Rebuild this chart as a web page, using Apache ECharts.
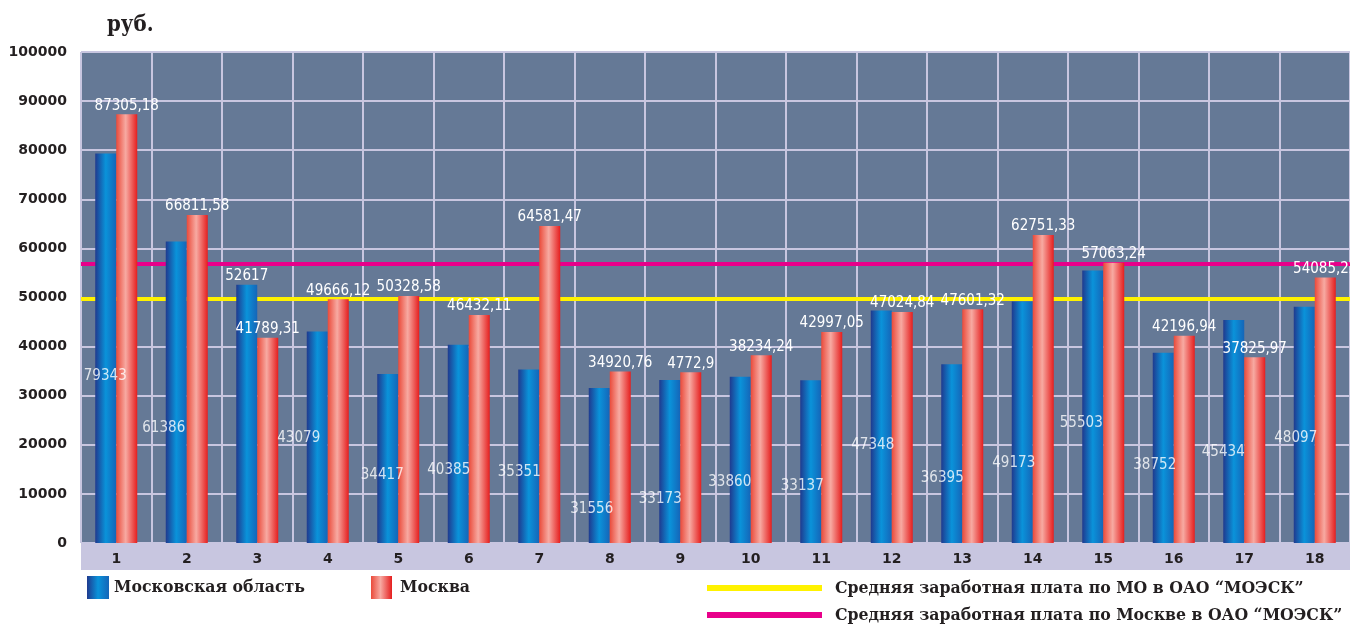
<!DOCTYPE html>
<html>
<head>
<meta charset="utf-8">
<script src="https://cdn.jsdelivr.net/npm/echarts@6/dist/echarts.min.js"></script>
<style>
  html, body { margin: 0; padding: 0; background: #ffffff; }
  #chart { width: 1350px; height: 625px; }
</style>
</head>
<body>
<div id="chart"></div>
<script>
// ---- data ----
const categories = ['1', '2', '3', '4', '5', '6', '7', '8', '9', '10', '11', '12', '13', '14', '15', '16', '17', '18'];

// Московская область
const regionValues = [79343, 61386, 52617, 43079, 34417, 40385, 35351, 31556, 33173, 33860, 33137, 47348, 36395, 49173, 55503, 38752, 45434, 48097];

// Москва
const moscowValues = [87305.18, 66811.58, 41789.31, 49666.12, 50328.58, 46432.11, 64581.47, 34920.76, 34772.9, 38234.24, 42997.05, 47024.84, 47601.32, 62751.33, 57063.24, 42196.94, 37825.97, 54085.22];
const moscowLabelText = ['87305,18', '66811,58', '41789,31', '49666,12', '50328,58', '46432,11', '64581,47', '34920,76', '4772,9', '38234,24', '42997,05', '47024,84', '47601,32', '62751,33', '57063,24', '42196,94', '37825,97', '54085,22'];

// average salary levels
const avgRegion = 49750;
const avgMoscow = 56800;

// value axis ticks
const yMin = 0, yMax = 100000, yStep = 10000;

const seriesNames = ['Московская область', 'Москва', 'Средняя заработная плата по МО в ОАО “МОЭСК”', 'Средняя заработная плата по Москве в ОАО “МОЭСК”'];

// ---- layout ----
// height (in axis units) at which each region value is written inside the plot; null = above its bar
const regionLabelLevel = [34000, 23500, null, 21400, 13800, 14800, 14400, 7000, 8900, 12400, 11500, 19900, 13300, 16300, 24500, 15800, 18600, 21400];
// horizontal shift (px) of those captions from the category centre
const regionLabelDx = [-11, -23, 0, -29, -16, -20, -20, -18, -20, -21, -19, -19, -20, -19, -22, -19, -21, -19];

const GRID = { left: 81, right: 0, top: 52, bottom: 82 };
const BAND_HEIGHT = 27;

const ink = '#231f20';
const lavender = '#c8c6e0';
const plotBg = '#657996';
const serifFont = '"DejaVu Serif Condensed", "DejaVu Serif", serif';
const tickFont = '"DejaVu Sans", sans-serif';
const numFont = '"DejaVu Sans Condensed", "DejaVu Sans", sans-serif';

const blueFill = new echarts.graphic.LinearGradient(0, 0, 1, 0, [
  { offset: 0, color: '#1f3a8f' },
  { offset: 0.5, color: '#0a93da' },
  { offset: 1, color: '#1565b8' }
]);
const redFill = new echarts.graphic.LinearGradient(0, 0, 1, 0, [
  { offset: 0, color: '#ea4a3a' },
  { offset: 0.45, color: '#f7aaa2' },
  { offset: 1, color: '#e51e1e' }
]);

const valueLabel = {
  color: '#ffffff',
  fontFamily: numFont,
  fontSize: 15
};

const chartEl = document.getElementById('chart');
const chart = echarts.init(chartEl, null, { renderer: 'canvas' });

const legendText = { color: ink, fontFamily: serifFont, fontWeight: 'bold', fontSize: 17.5 };

chart.setOption({
  backgroundColor: '#ffffff',
  animation: false,
  title: {
    text: 'руб.',
    left: 107,
    top: 14,
    padding: 0,
    textStyle: { color: ink, fontFamily: serifFont, fontWeight: 'bold', fontSize: 22 }
  },
  legend: [
    {
      data: [seriesNames[0]], left: 87, top: 576, padding: 0,
      icon: 'rect', itemWidth: 22, itemHeight: 23, selectedMode: false,
      textStyle: Object.assign({ padding: [3, 0, 0, 0] }, legendText)
    },
    {
      data: [seriesNames[1]], left: 371, top: 576, padding: 0,
      icon: 'rect', itemWidth: 21, itemHeight: 23, selectedMode: false,
      textStyle: Object.assign({ padding: [3, 0, 0, 3] }, legendText)
    },
    {
      data: [seriesNames[2]], left: 707, top: 579, padding: 0,
      icon: 'rect', itemWidth: 115, itemHeight: 6, selectedMode: false,
      textStyle: Object.assign({ padding: [0, 0, 0, 8] }, legendText)
    },
    {
      data: [seriesNames[3]], left: 707, top: 606, padding: 0,
      icon: 'rect', itemWidth: 115, itemHeight: 6, selectedMode: false,
      textStyle: Object.assign({ padding: [0, 0, 0, 8] }, legendText)
    }
  ],
  grid: {
    left: GRID.left, right: GRID.right, top: GRID.top, bottom: GRID.bottom,
    show: true, backgroundColor: plotBg, borderWidth: 0,
    containLabel: false
  },
  xAxis: {
    type: 'category',
    data: categories,
    boundaryGap: true,
    z: 1,
    axisLine: { show: false },
    axisTick: { show: false },
    axisLabel: {
      color: ink, fontFamily: tickFont, fontWeight: 'bold', fontSize: 14,
      margin: 16, verticalAlign: 'middle', interval: 0
    },
    splitLine: { show: true, interval: 0, lineStyle: { color: lavender, width: 2 } }
  },
  yAxis: {
    type: 'value',
    min: yMin, max: yMax, interval: yStep,
    z: 1,
    axisLine: { show: false },
    axisTick: { show: false },
    axisLabel: {
      color: ink, fontFamily: tickFont, fontWeight: 'bold', fontSize: 14, margin: 14,
      formatter: (v) => String(v)
    },
    splitLine: { show: true, lineStyle: { color: lavender, width: 2 } }
  },
  series: [
    {
      name: seriesNames[0],
      type: 'bar',
      barWidth: 21,
      barGap: '0%',
      z: 3,
      itemStyle: { color: blueFill },
      data: regionValues.map((v, i) => ({
        value: v,
        label: {
          show: regionLabelLevel[i] === null,
          position: 'top',
          distance: 1,
          formatter: String(v)
        }
      })),
      label: valueLabel
    },
    {
      name: seriesNames[1],
      type: 'bar',
      barWidth: 21,
      barGap: '0%',
      z: 3,
      itemStyle: { color: redFill },
      data: moscowValues,
      label: Object.assign({
        show: true,
        position: 'top',
        distance: 1,
        formatter: (p) => moscowLabelText[p.dataIndex]
      }, valueLabel)
    },
    {
      // in-plot value captions for the region bars
      type: 'scatter',
      symbolSize: 0,
      silent: true,
      z: 4,
      data: regionLabelLevel.map((lv, i) => (lv === null ? '-' : {
        value: lv,
        label: { offset: [regionLabelDx[i], 0] }
      })),
      label: Object.assign({
        show: true,
        position: 'inside',
        formatter: (p) => String(regionValues[p.dataIndex])
      }, valueLabel)
    },
    {
      name: seriesNames[2],
      type: 'line',
      data: [],
      z: 2,
      itemStyle: { color: '#fff200' },
      lineStyle: { color: '#fff200' },
      markLine: {
        z: 2,
        silent: true,
        symbol: ['none', 'none'],
        label: { show: false },
        lineStyle: { color: '#fff200', width: 4, type: 'solid' },
        data: [{ yAxis: avgRegion }]
      }
    },
    {
      name: seriesNames[3],
      type: 'line',
      data: [],
      z: 2,
      itemStyle: { color: '#e8008a' },
      lineStyle: { color: '#e8008a' },
      markLine: {
        z: 2,
        silent: true,
        symbol: ['none', 'none'],
        label: { show: false },
        lineStyle: { color: '#e8008a', width: 4, type: 'solid' },
        data: [{ yAxis: avgMoscow }]
      }
    }
  ]
});

// lavender band under the plot that carries the category labels
const zeroY = chart.convertToPixel({ yAxisIndex: 0 }, yMin);
chart.setOption({
  graphic: [{
    type: 'rect',
    z: 0,
    silent: true,
    shape: {
      x: GRID.left,
      y: zeroY,
      width: chart.getWidth() - GRID.left - GRID.right,
      height: BAND_HEIGHT
    },
    style: { fill: lavender }
  }]
});
</script>
</body>
</html>
